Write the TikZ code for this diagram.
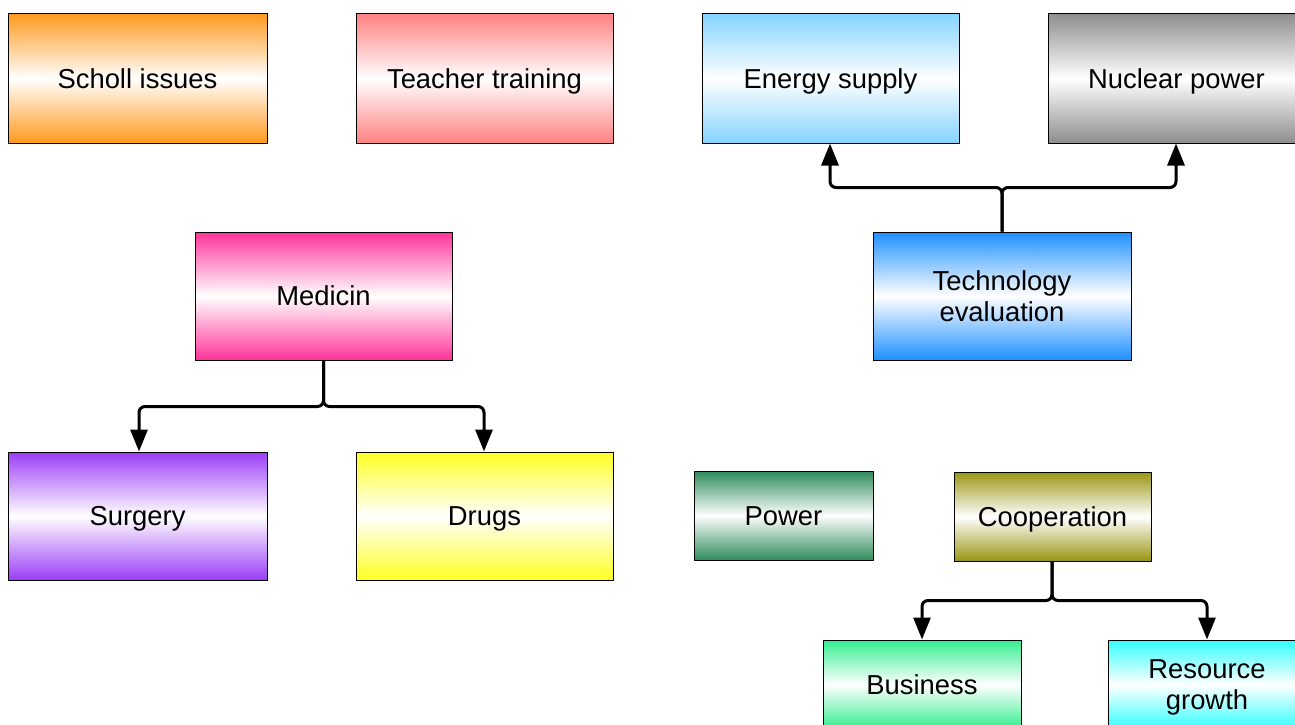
\documentclass[tikz,border=0pt]{standalone}
\usepackage{fontspec}
\setmainfont{Liberation Sans}
\usetikzlibrary{arrows.meta,calc}
\definecolor{cSchool}{HTML}{FF9A1F}
\definecolor{cTeacher}{HTML}{FF8282}
\definecolor{cEnergy}{HTML}{85D4FF}
\definecolor{cNuclear}{HTML}{8E8E8E}
\definecolor{cMed}{HTML}{FF3399}
\definecolor{cTech}{HTML}{1E90FF}
\definecolor{cSurg}{HTML}{9B3DF5}
\definecolor{cDrugs}{HTML}{FFFF22}
\definecolor{cPower}{HTML}{2E8B5A}
\definecolor{cCoop}{HTML}{9A9514}
\definecolor{cBiz}{HTML}{33EE8E}
\definecolor{cRes}{HTML}{33FFFF}
\tikzset{
  box/.style={draw=black, line width=1pt, inner sep=0pt, align=center,
    font=\fontsize{27.4}{31}\selectfont,
    top color=#1, bottom color=#1, middle color=white},
  one/.style={text height=19.5pt, text depth=0pt},
  link/.style={line width=3pt, rounded corners=6pt, -{Triangle[length=22pt,width=17pt]}}
}
\begin{document}
\begin{tikzpicture}[x=1pt,y=-1pt]
\clip (0,0) rectangle (1295,725);
\node[box=cSchool, one, minimum width=259pt, minimum height=129pt] (school) at (137.5,78.5) {Scholl issues};
\node[box=cTeacher, one, minimum width=257pt, minimum height=129pt] (teacher) at (484.5,78.5) {Teacher training};
\node[box=cEnergy, one, minimum width=257pt, minimum height=129pt] (energy) at (830.5,78.5) {Energy supply};
\node[box=cNuclear, one, minimum width=257pt, minimum height=129pt] (nuclear) at (1176.5,78.5) {Nuclear power};
\node[box=cMed, one, minimum width=257pt, minimum height=128pt] (med) at (323.5,296) {Medicin};
\node[box=cTech, minimum width=258pt, minimum height=128pt] (tech) at (1002,296) {Technology\\evaluation};
\node[box=cSurg, one, minimum width=259pt, minimum height=128pt] (surg) at (137.5,516) {Surgery};
\node[box=cDrugs, one, minimum width=257pt, minimum height=128pt] (drugs) at (484.5,516) {Drugs};
\node[box=cPower, one, minimum width=179pt, minimum height=89pt] (power) at (783.5,515.5) {Power};
\node[box=cCoop, one, minimum width=197pt, minimum height=89pt] (coop) at (1052.5,516.5) {Cooperation};
\node[box=cBiz, one, minimum width=198pt, minimum height=89pt] (biz) at (922,684.5) {Business};
\node[box=cRes, minimum width=198pt, minimum height=89pt, text depth=0pt] (res) at (1207,684.5) {Resource\\growth};

\coordinate (mj) at ($(med.south)+(0,46)$);
\draw[link] (med.south) -- (mj) -| ($(surg.north)+(1.5,0)$);
\draw[link] (med.south) -- (mj) -| ($(drugs.north)+(-0.5,0)$);

\coordinate (tj) at ($(tech.north)+(0,-44)$);
\draw[link] (tech.north) -- (tj) -| ($(energy.south)+(-0.5,0)$);
\draw[link] (tech.north) -- (tj) -| ($(nuclear.south)+(-0.5,0)$);

\coordinate (cj) at ($(coop.south)+(-0.5,39)$);
\draw[link] ($(coop.south)+(-0.5,0)$) -- (cj) -| (biz.north);
\draw[link] ($(coop.south)+(-0.5,0)$) -- (cj) -| (res.north);
\end{tikzpicture}
\end{document}
